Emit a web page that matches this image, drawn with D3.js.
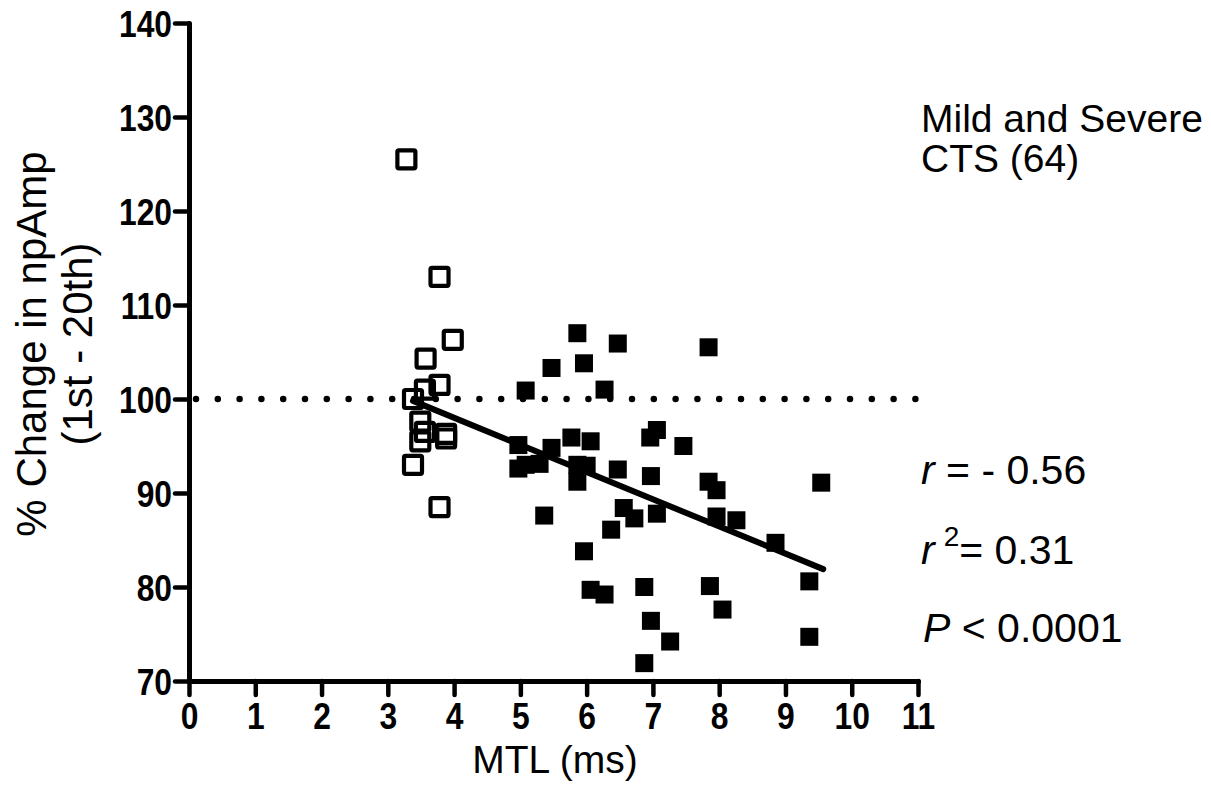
<!DOCTYPE html>
<html>
<head>
<meta charset="utf-8">
<script src="https://cdn.jsdelivr.net/npm/d3@7"></script>
<style>
  html, body { margin: 0; padding: 0; background: #fff; }
  svg { display: block; }
  text { font-family: "Liberation Sans", Arial, Helvetica, sans-serif; fill: #000; }
</style>
</head>
<body>
<svg id="chart" width="1211" height="797"></svg>
<script>
// ---- data ----
const xTicks = [0, 1, 2, 3, 4, 5, 6, 7, 8, 9, 10, 11];
const yTicks = [70, 80, 90, 100, 110, 120, 130, 140];

// Mild CTS (open squares)
const mildX = [3.28, 3.78, 3.98, 3.57, 3.78, 3.56, 3.38, 3.49, 3.56, 3.88, 3.88, 3.49, 3.38, 3.78];
const mildY = [125.5, 113.0, 106.3, 104.3, 101.5, 101.0, 100.0, 97.6, 96.5, 96.3, 95.8, 95.5, 93.0, 88.5];

// Severe CTS (filled squares)
const severeX = [5.86, 6.47, 5.47, 5.96, 5.08, 6.27, 4.97, 5.77, 6.06, 5.47,
                 4.97, 5.08, 5.29, 5.86, 6.00, 5.86, 6.47, 6.97, 5.36, 6.56,
                 6.72, 6.37, 7.06, 7.84, 7.06, 6.96, 7.46, 7.84, 7.96, 9.54,
                 7.96, 8.26, 8.85, 5.96, 6.06, 6.27, 6.87, 6.97, 7.26, 6.87,
                 7.86, 8.05, 9.36, 9.36];
const severeY = [107.0, 105.9, 103.3, 103.8, 100.9, 101.0, 95.1, 95.9, 95.5, 94.8,
                 92.6, 93.0, 93.1, 93.0, 92.9, 91.2, 92.5, 91.8, 87.6, 88.4,
                 87.3, 86.1, 87.8, 105.5, 96.7, 95.9, 95.0, 91.2, 90.3, 91.1,
                 87.5, 87.1, 84.7, 83.8, 79.7, 79.2, 80.0, 76.4, 74.2, 71.9,
                 80.1, 77.6, 80.6, 74.7];

// regression line end points
const fitX = [3.38, 9.57];
const fitY = [99.8, 81.9];

// reference line
const refY = 100;

const titleLines = ["Mild and Severe", "CTS (64)"];
const statR = "- 0.56";
const statR2 = "0.31";
const statP = "0.0001";

// ---- drawing ----
const svg = d3.select("#chart");
const x = d3.scaleLinear().domain([0, 11]).range([189, 918]);
const y = d3.scaleLinear().domain([70, 140]).range([681, 23]);

// dotted reference line at 100
svg.append("line")
  .attr("x1", x(0) + 7).attr("x2", x(11))
  .attr("y1", y(refY)).attr("y2", y(refY))
  .attr("stroke", "#000").attr("stroke-width", 6.5)
  .attr("stroke-linecap", "round")
  .attr("stroke-dasharray", "0 21.8");

// axes
const xAxis = d3.axisBottom(x).tickValues(xTicks).tickFormat(d3.format("d"))
  .tickSize(14).tickSizeOuter(0).tickPadding(10);
const yAxis = d3.axisLeft(y).tickValues(yTicks).tickFormat(d3.format("d"))
  .tickSize(14).tickSizeOuter(0).tickPadding(3);

const gx = svg.append("g").attr("transform", `translate(0,${y(70)})`).call(xAxis);
const gy = svg.append("g").attr("transform", `translate(${x(0)},0)`).call(yAxis);

const sx = 0.86;
[gx, gy].forEach(g => {
  g.select(".domain").attr("stroke", "#000").attr("stroke-width", 5).attr("stroke-linecap", "round");
  g.selectAll(".tick line").attr("stroke", "#000").attr("stroke-width", 4.5).attr("stroke-linecap", "round");
  g.selectAll(".tick text")
    .attr("fill", "#000")
    .style("font-family", '"Liberation Sans", Arial, sans-serif')
    .style("font-weight", "bold")
    .style("font-size", "37px");
});
gx.selectAll(".tick text").attr("y", 21).attr("dy", "0.72em")
  .attr("transform", `scale(${sx},1)`);
gy.selectAll(".tick text").attr("dy", "0.36em").attr("x", -17 / sx)
  .attr("transform", `scale(${sx},1)`);

// open squares (mild)
const sq = 18;
const mild = mildX.map((v, i) => ({ x: v, y: mildY[i] }));
const severe = severeX.map((v, i) => ({ x: v, y: severeY[i] }));

svg.append("g").selectAll("rect").data(mild).join("rect")
  .attr("x", d => x(d.x) - sq / 2)
  .attr("y", d => y(d.y) - sq / 2)
  .attr("width", sq).attr("height", sq)
  .attr("fill", "none").attr("stroke", "#000").attr("stroke-width", 4.2)
  .attr("rx", 1.5);

// regression line
svg.append("line")
  .attr("x1", x(fitX[0])).attr("y1", y(fitY[0]))
  .attr("x2", x(fitX[1])).attr("y2", y(fitY[1]))
  .attr("stroke", "#000").attr("stroke-width", 6).attr("stroke-linecap", "round");

// filled squares (severe)
svg.append("g").selectAll("rect").data(severe).join("rect")
  .attr("x", d => x(d.x) - sq / 2)
  .attr("y", d => y(d.y) - sq / 2)
  .attr("width", sq).attr("height", sq)
  .attr("fill", "#000");

// axis titles
svg.append("text")
  .attr("x", 555).attr("y", 773)
  .attr("text-anchor", "middle")
  .style("font-size", "39px")
  .text("MTL (ms)");

const yt = svg.append("text")
  .attr("transform", `translate(46,344) rotate(-90)`)
  .attr("text-anchor", "middle")
  .style("font-size", "42px");
yt.append("tspan").attr("x", 0).attr("y", 0).text("% Change in npAmp");
yt.append("tspan").attr("x", 0).attr("y", 46).text("(1st - 20th)");

// legend title
const lt = svg.append("text").style("font-size", "39px");
titleLines.forEach((t, i) => {
  lt.append("tspan").attr("x", 921).attr("y", 132 + i * 40).text(t);
});

// statistics
const s1 = svg.append("text").attr("x", 921).attr("y", 484).style("font-size", "41px");
s1.append("tspan").style("font-style", "italic").text("r");
s1.append("tspan").text(" = " + statR);

const s2 = svg.append("text").attr("x", 921).attr("y", 564).style("font-size", "41px");
s2.append("tspan").style("font-style", "italic").text("r");
s2.append("tspan").attr("dx", 9).attr("dy", -18).style("font-size", "28px").text("2");
s2.append("tspan").attr("dy", 18).text("= " + statR2);

const s3 = svg.append("text").attr("x", 923).attr("y", 642).style("font-size", "41px");
s3.append("tspan").style("font-style", "italic").text("P");
s3.append("tspan").text(" < " + statP);
</script>
</body>
</html>
